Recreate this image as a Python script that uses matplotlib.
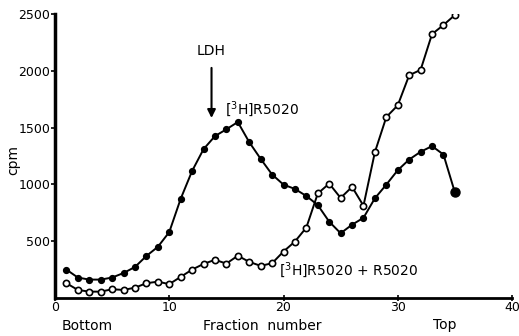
import matplotlib
matplotlib.use("Agg")
import matplotlib.pyplot as plt

fractions = list(range(1, 36))
r5020_bound = [250, 180, 162, 162, 180, 220, 273, 370, 450, 580,
               873, 1118, 1310, 1425, 1485, 1549, 1372, 1225, 1087, 998,
               960, 898, 818, 672, 570, 645, 706, 878, 998, 1125,
               1219, 1287, 1337, 1263, 930]
r5020_competed = [130, 71, 56, 56, 77, 71, 91, 130, 144, 122,
                  186, 250, 300, 336, 303, 372, 318, 283, 306, 409,
                  497, 620, 920, 1007, 881, 978, 812, 1284, 1593, 1696,
                  1961, 2008, 2323, 2403, 2491]

xticks = [0, 10, 20, 30, 40]
yticks = [500, 1000, 1500, 2000, 2500]

fig = plt.figure(figsize=(5.19, 3.36), dpi=100)
ax = fig.add_axes([55/519, 1-298/336, (512-55)/519, (298-14)/336])

ax.plot(fractions, r5020_bound, '-', color='black', lw=1.4,
        marker='o', ms=4.2, mfc='black', mec='black')
ax.plot(fractions[-1:], r5020_bound[-1:], 'o', color='black', ms=6.5)
ax.plot(fractions, r5020_competed, '-', color='black', lw=1.4,
        marker='o', ms=4.5, mfc='white', mec='black', mew=1.2)

ax.set_xlim(0, 40)
ax.set_ylim(0, 2500)
ax.set_xticks(xticks)
ax.set_yticks(yticks)
ax.tick_params(axis='both', labelsize=9, width=1.2, length=3, pad=0.5)
ax.tick_params(axis='y', direction='out')
ax.tick_params(axis='x', direction='inout', length=4, pad=0.5)
for s in ['top', 'right']:
    ax.spines[s].set_visible(False)
ax.spines['left'].set_linewidth(2.5)
ax.spines['bottom'].set_linewidth(2.0)

fig.text(13/519, 1-160/336, 'cpm', rotation=90, ha='center', va='center', fontsize=10)

ax.annotate('', xy=(13.7, 1560), xytext=(13.7, 2050),
            arrowprops=dict(arrowstyle='-|>', color='black', lw=1.5,
                            mutation_scale=12))
ax.text(13.7, 2110, 'LDH', ha='center', va='bottom', fontsize=10)
ax.text(14.9, 1660, '[$^3$H]R5020', ha='left', va='center', fontsize=10)
ax.text(19.6, 250, '[$^3$H]R5020 + R5020', ha='left', va='center', fontsize=10)

fig.text(87/519, 1-326/336, 'Bottom', ha='center', va='center', fontsize=10)
fig.text(262/519, 1-326/336, 'Fraction  number', ha='center', va='center', fontsize=10)
fig.text(445/519, 1-325/336, 'Top', ha='center', va='center', fontsize=10)

fig.savefig('out.png', dpi=100)
